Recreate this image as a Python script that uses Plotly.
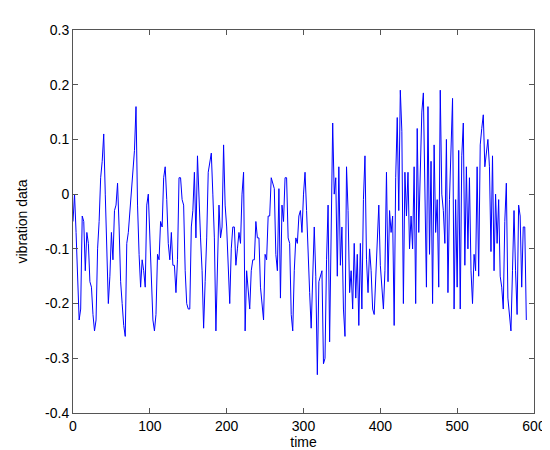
import numpy as np
import plotly.graph_objects as go

# vibration signal, one sample every 2 time units (0..590)
vibration = [
    -0.05, 0.00, -0.07, -0.15, -0.23, -0.21, -0.04, -0.05, -0.14, -0.07,
    -0.09, -0.16, -0.17, -0.22, -0.25, -0.23, -0.10, -0.05, 0.03, 0.06,
    0.11, 0.00, -0.13, -0.20, -0.15, -0.07, -0.12, -0.03, -0.02, 0.02,
    -0.06, -0.16, -0.20, -0.24, -0.26, -0.09, -0.07, -0.03, 0.01, 0.05,
    0.08, 0.16, -0.02, -0.11, -0.17, -0.12, -0.14, -0.17, -0.02, 0.00,
    -0.07, -0.17, -0.23, -0.25, -0.22, -0.11, -0.12, -0.05, -0.06, 0.03,
    0.05, -0.01, -0.09, -0.12, -0.07, -0.13, -0.13, -0.18, -0.12, 0.03,
    0.03, -0.01, -0.02, -0.14, -0.20, -0.21, -0.21, -0.06, -0.03, 0.04,
    -0.08, 0.07, -0.02, -0.08, -0.14, -0.245, -0.16, -0.08, 0.04, 0.06,
    0.075, 0.00, -0.08, -0.25, -0.14, -0.02, -0.08, -0.06, 0.09, -0.02,
    -0.06, -0.14, -0.20, -0.10, -0.06, -0.06, -0.13, -0.10, -0.07, -0.09,
    0.00, 0.04, -0.25, -0.14, -0.18, -0.21, -0.14, -0.12, -0.12, -0.05,
    -0.08, -0.08, -0.17, -0.20, -0.23, -0.11, -0.12, -0.04, -0.04, 0.03,
    0.02, 0.01, -0.11, -0.14, 0.01, -0.19, -0.02, -0.05, 0.03, 0.03,
    -0.08, -0.09, -0.22, -0.25, -0.14, -0.08, -0.09, -0.04, -0.03, -0.07,
    0.00, 0.04, -0.03, -0.12, -0.18, -0.245, -0.15, -0.06, -0.15, -0.33,
    -0.16, -0.15, -0.14, -0.31, -0.30, -0.12, -0.02, -0.27, -0.09, 0.13,
    0.00, 0.03, -0.15, 0.05, -0.13, -0.06, -0.21, -0.26, 0.05, -0.03,
    -0.18, -0.14, -0.21, -0.09, -0.19, -0.11, -0.24, -0.09, -0.21, -0.01,
    0.07, -0.12, -0.18, -0.10, -0.14, -0.21, -0.22, -0.15, -0.10, -0.02,
    -0.13, -0.18, -0.21, -0.14, 0.04, -0.16, -0.03, -0.07, -0.04, -0.24,
    0.03, 0.14, -0.03, 0.19, 0.115, -0.20, 0.04, -0.04, 0.04, -0.10,
    -0.04, -0.10, 0.05, -0.20, 0.12, -0.07, 0.07, 0.15, 0.185, -0.03,
    -0.17, 0.16, -0.11, 0.06, -0.20, 0.09, -0.07, -0.01, -0.17, 0.19,
    0.00, -0.03, -0.09, 0.10, -0.18, -0.01, 0.10, 0.175, -0.21, -0.01,
    -0.17, 0.08, -0.21, 0.07, 0.13, -0.13, 0.05, -0.10, 0.03, -0.14,
    -0.20, -0.11, -0.14, 0.05, -0.15, 0.09, 0.12, 0.145, 0.05, 0.07,
    0.10, 0.05, -0.105, 0.07, -0.14, 0.00, -0.09, -0.01, -0.15, -0.17,
    -0.21, -0.05, 0.02, -0.19, -0.22, -0.25, -0.14, -0.03, -0.14, -0.22,
    -0.02, -0.04, -0.17, -0.06, -0.06, -0.23,
]
time = np.arange(len(vibration)) * 2

x_ticks = [0, 100, 200, 300, 400, 500, 600]
y_ticks = [-0.4, -0.3, -0.2, -0.1, 0, 0.1, 0.2, 0.3]
y_tick_labels = ["-0.4", "-0.3", "-0.2", "-0.1", "0", "0.1", "0.2", "0.3"]

fig = go.Figure()
fig.add_trace(go.Scatter(x=time, y=vibration, mode='lines',
                         line=dict(color='#0000ff', width=1)))

axis_style = dict(showgrid=False, zeroline=False, showline=True, linecolor='#555555',
                  linewidth=1, mirror='ticks', ticks='inside', ticklen=5,
                  tickcolor='#555555', tickfont=dict(size=14, color='black'))

fig.update_xaxes(range=[0, 600], tickvals=x_ticks,
                 title=dict(text='time', font=dict(size=14, color='black'), standoff=2),
                 **axis_style)
fig.update_yaxes(range=[-0.4, 0.3], tickvals=y_ticks, ticktext=y_tick_labels,
                 title=dict(text='vibration data', font=dict(size=14, color='black'), standoff=14),
                 **axis_style)

fig.update_layout(width=550, height=450, showlegend=False,
                  plot_bgcolor='white', paper_bgcolor='white',
                  font=dict(family='Liberation Sans, Arial, sans-serif'),
                  margin=dict(l=65, r=17, t=22, b=45))

fig.write_html("out.html")
